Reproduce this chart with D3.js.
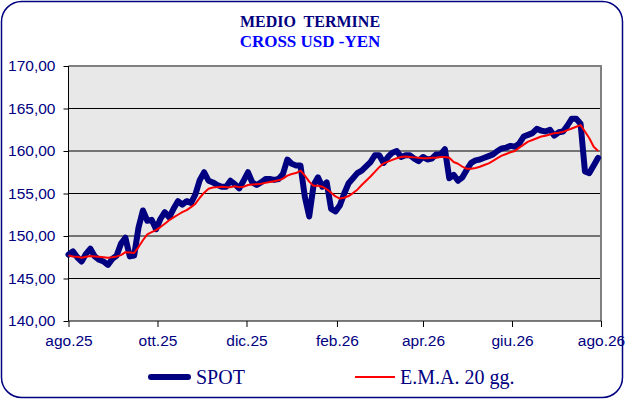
<!DOCTYPE html>
<html>
<head>
<meta charset="utf-8">
<script src="https://cdn.jsdelivr.net/npm/d3@7"></script>
<style>
  html, body { margin: 0; padding: 0; background: #fff; }
  svg { display: block; }
</style>
</head>
<body>
<div id="chart"></div>
<script>
// series sampled every 3 days starting 1 Aug 2025
const startDate = new Date(2025, 7, 1);
const stepDays = 3;

const spot = [
  147.8, 148.2, 147.5, 147.0, 147.9, 148.5, 147.6, 147.2, 147.0, 146.6,
  147.3, 147.7, 149.1, 149.8, 147.6, 147.7, 151.0, 153.0, 151.8, 151.9,
  150.8, 152.0, 152.8, 152.2, 153.2, 154.1, 153.7, 154.1, 153.9, 154.9,
  156.6, 157.5, 156.5, 156.3, 156.0, 155.8, 155.8, 156.5, 156.1, 155.6,
  156.5, 157.5, 156.3, 156.0, 156.3, 156.7, 156.7, 156.6, 156.7, 157.3,
  159.0, 158.5, 158.3, 158.3, 154.6, 152.3, 156.0, 156.9, 155.8, 156.3,
  153.2, 152.9, 153.6, 155.0, 156.2, 156.8, 157.4, 157.7, 158.2, 158.7,
  159.5, 159.5, 158.6, 159.3, 159.8, 160.0, 159.3, 159.5, 159.5, 159.1,
  158.8, 159.3, 159.0, 159.1, 159.6, 159.6, 160.2, 156.8, 157.2, 156.5,
  156.9, 157.8, 158.6, 158.9, 159.0, 159.2, 159.4, 159.6, 160.0, 160.3,
  160.4, 160.6, 160.5, 160.9, 161.7, 161.9, 162.1, 162.6, 162.4, 162.3,
  162.5, 161.8, 162.2, 162.3, 163.0, 163.8, 163.8, 163.2, 157.6, 157.4,
  158.3, 159.2
];

const ema = [
  147.7, 147.6, 147.55, 147.45, 147.55, 147.65, 147.6, 147.55, 147.5, 147.45,
  147.5, 147.6, 147.75, 148.1, 148.05, 148.0, 148.7, 149.5, 150.2, 150.45,
  150.7, 151.05, 151.45, 151.85, 152.2, 152.5, 152.8, 153.05, 153.4, 153.8,
  154.5, 155.1, 155.55, 155.7, 155.75, 155.8, 155.75, 155.75, 155.85, 155.75,
  155.8, 156.0, 156.05, 156.1, 156.15, 156.25, 156.35, 156.45, 156.55, 156.75,
  157.1, 157.3, 157.4, 157.7, 157.1, 156.4, 155.9, 155.9, 155.8, 155.5,
  155.1, 154.65, 154.4, 154.5, 154.7, 155.05, 155.45, 156.0, 156.5, 157.0,
  157.55, 158.1, 158.55, 158.75, 158.95, 159.15, 159.3, 159.35, 159.3, 159.25,
  159.2, 159.15, 159.15, 159.2, 159.2, 159.3, 159.3, 159.2, 158.7, 158.5,
  158.15, 157.9, 157.9, 158.0, 158.15, 158.35, 158.55, 158.85, 159.15, 159.45,
  159.65, 159.85, 160.0, 160.4, 160.75, 161.1, 161.3, 161.5, 161.7, 161.8,
  161.95, 162.1, 162.15, 162.25, 162.45, 162.65, 162.85, 163.05, 162.3, 161.5,
  160.5, 160.0
];

const yTicks = [140, 145, 150, 155, 160, 165, 170];
const monthTicks = [
  new Date(2025, 7, 1), new Date(2025, 9, 1), new Date(2025, 11, 1),
  new Date(2026, 1, 1), new Date(2026, 3, 1), new Date(2026, 5, 1),
  new Date(2026, 7, 1)
];
const monthLabels = ["ago.25", "ott.25", "dic.25", "feb.26", "apr.26", "giu.26", "ago.26"];
const titleLines = ["MEDIO  TERMINE", "CROSS USD -YEN"];
const legendNames = ["SPOT", "E.M.A. 20 gg."];

const width = 626, height = 400;
const navy = "#000080";
const serif = "'Liberation Serif', 'Times New Roman', serif";
const sans = "'Liberation Sans', Arial, sans-serif";

const dates = spot.map((d, i) => d3.timeDay.offset(startDate, i * stepDays));
const spotData = spot.map((v, i) => ({date: dates[i], value: v}));
const emaData = ema.map((v, i) => ({date: dates[i], value: v}));

const x = d3.scaleTime()
    .domain([monthTicks[0], monthTicks[monthTicks.length - 1]])
    .range([68.5, 601]);
const y = d3.scaleLinear()
    .domain([140, 170])
    .range([321, 66]);

const svg = d3.select("#chart").append("svg")
    .attr("width", width)
    .attr("height", height)
    .attr("viewBox", [0, 0, width, height]);

// outer frame
svg.append("rect")
    .attr("x", 1.5).attr("y", 1.5)
    .attr("width", 621).attr("height", 396)
    .attr("rx", 20).attr("ry", 20)
    .attr("fill", "#fff")
    .attr("stroke", navy)
    .attr("stroke-width", 1.5);

// titles
svg.append("g")
    .attr("font-family", serif)
    .attr("font-weight", "bold")
    .attr("text-anchor", "middle")
  .selectAll("text")
  .data(titleLines)
  .join("text")
    .attr("x", 310)
    .attr("y", (d, i) => 27 + i * 20)
    .attr("font-size", (d, i) => i === 0 ? 16 : 17)
    .attr("fill", (d, i) => i === 0 ? navy : "#0000ff")
    .style("white-space", "pre")
    .text(d => d);

// plot background
svg.append("rect")
    .attr("x", x.range()[0]).attr("y", y(170))
    .attr("width", x.range()[1] - x.range()[0])
    .attr("height", y(140) - y(170))
    .attr("fill", "#e8e8e8");

// gridlines
svg.append("g")
  .selectAll("line")
  .data(yTicks.slice(1, -1))
  .join("line")
    .attr("x1", x.range()[0]).attr("x2", x.range()[1])
    .attr("y1", d => y(d)).attr("y2", d => y(d))
    .attr("stroke", "#000")
    .attr("stroke-width", 1);

// gray border top / right
svg.append("path")
    .attr("d", `M${x.range()[0]},${y(170)}H${x.range()[1]}V${y(140)}`)
    .attr("fill", "none")
    .attr("stroke", "#808080")
    .attr("stroke-width", 2);

// y axis
const yAxis = svg.append("g")
    .attr("transform", `translate(${x.range()[0]},0)`)
    .call(d3.axisLeft(y)
      .tickValues(yTicks)
      .tickSize(5)
      .tickPadding(8)
      .tickFormat(d => d3.format(".2f")(d).replace(".", ",")));
yAxis.select(".domain").attr("stroke", "#000").attr("d", `M0,${y(170)}V${y(140)}`);
yAxis.selectAll(".tick line").attr("stroke", "#000");
yAxis.selectAll("text")
    .attr("fill", navy)
    .attr("font-family", sans)
    .attr("font-size", 15.5);

// x axis
const xAxis = svg.append("g")
    .attr("transform", `translate(0,${y(140)})`)
    .call(d3.axisBottom(x)
      .tickValues(monthTicks)
      .tickSize(6)
      .tickPadding(8)
      .tickFormat((d, i) => monthLabels[i]));
xAxis.select(".domain").attr("stroke", "#000").attr("d", `M${x.range()[0]},0H${x.range()[1]}`);
xAxis.selectAll(".tick line").attr("stroke", "#000");
xAxis.selectAll("text")
    .attr("fill", navy)
    .attr("font-family", sans)
    .attr("font-size", 15.5);

// series
const line = d3.line()
    .x(d => x(d.date))
    .y(d => y(d.value));

svg.append("path")
    .datum(spotData)
    .attr("d", line)
    .attr("fill", "none")
    .attr("stroke", navy)
    .attr("stroke-width", 6)
    .attr("stroke-linejoin", "round")
    .attr("stroke-linecap", "round");

svg.append("path")
    .datum(emaData)
    .attr("d", line)
    .attr("fill", "none")
    .attr("stroke", "#ff0000")
    .attr("stroke-width", 2)
    .attr("stroke-linejoin", "round");

// legend
const legend = svg.append("g")
    .attr("font-family", serif)
    .attr("font-size", 20)
    .attr("fill", navy);

legend.append("line")
    .attr("x1", 151).attr("x2", 188)
    .attr("y1", 377).attr("y2", 377)
    .attr("stroke", navy)
    .attr("stroke-width", 6)
    .attr("stroke-linecap", "round");
legend.append("text")
    .attr("x", 196).attr("y", 384)
    .text(legendNames[0]);

legend.append("line")
    .attr("x1", 355).attr("x2", 395)
    .attr("y1", 377).attr("y2", 377)
    .attr("stroke", "#ff0000")
    .attr("stroke-width", 2);
legend.append("text")
    .attr("x", 400).attr("y", 384)
    .text(legendNames[1]);
</script>
</body>
</html>
